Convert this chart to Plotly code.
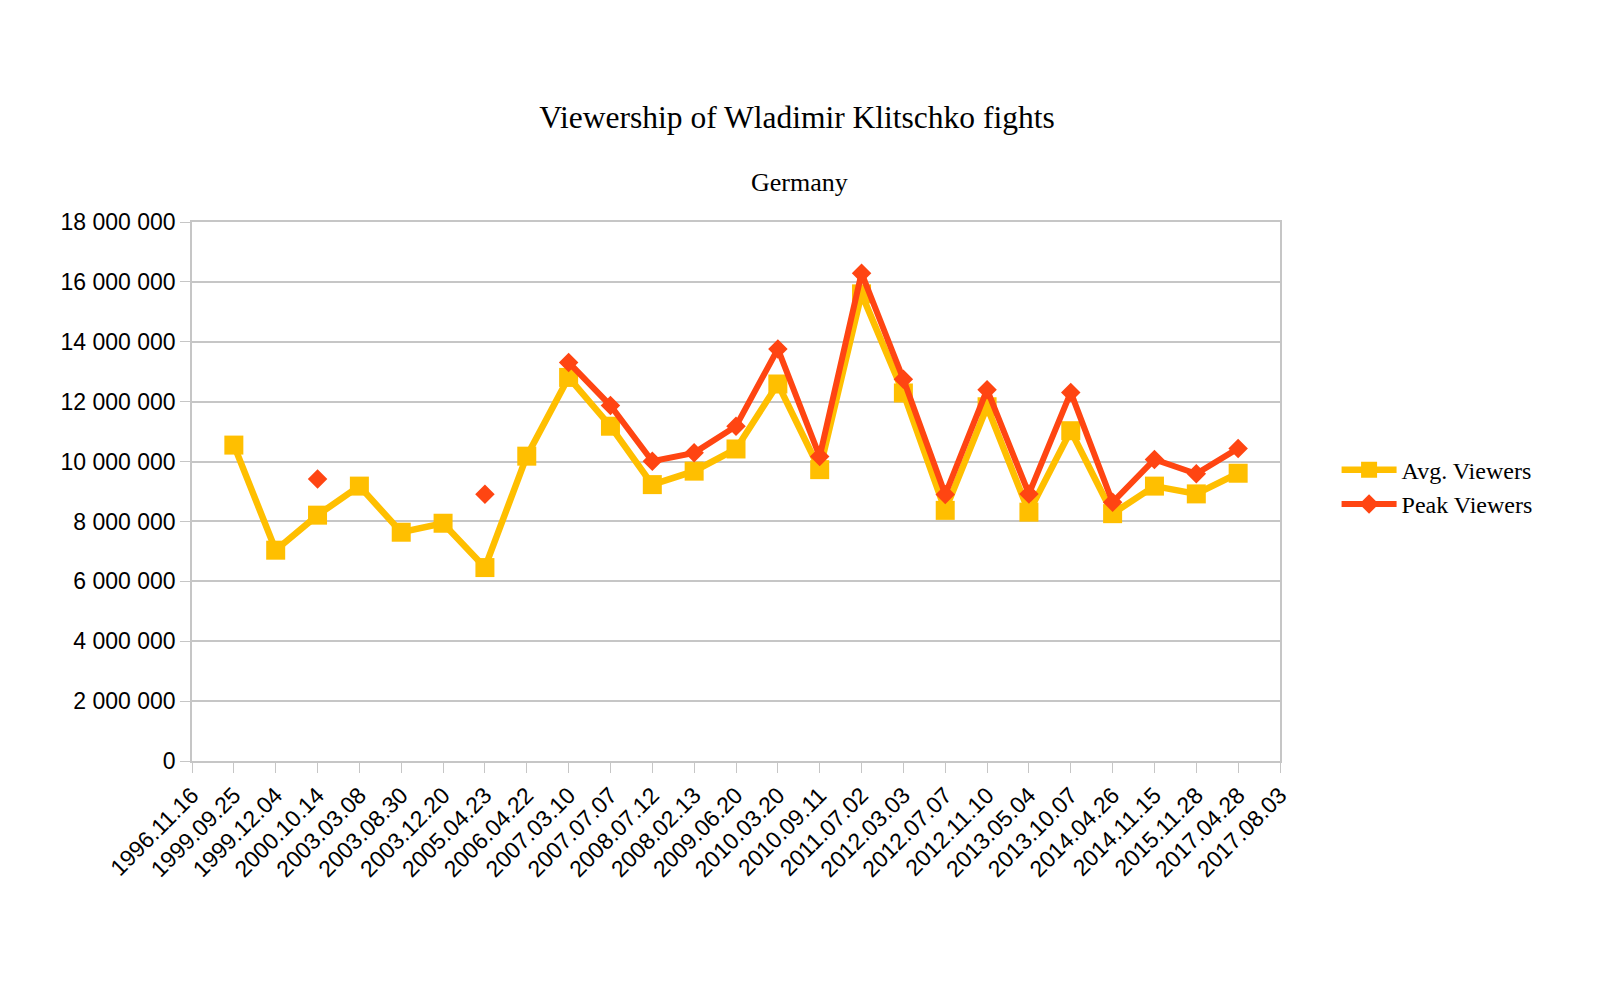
import plotly.graph_objects as go

# --- Data ---
FIGHT_DATES = [
    "1996.11.16", "1999.09.25", "1999.12.04", "2000.10.14", "2003.03.08",
    "2003.08.30", "2003.12.20", "2005.04.23", "2006.04.22", "2007.03.10",
    "2007.07.07", "2008.07.12", "2008.02.13", "2009.06.20", "2010.03.20",
    "2010.09.11", "2011.07.02", "2012.03.03", "2012.07.07", "2012.11.10",
    "2013.05.04", "2013.10.07", "2014.04.26", "2014.11.15", "2015.11.28",
    "2017.04.28", "2017.08.03",
]

AVG_VIEWERS = [
    None, 10_550_000, 7_040_000, 8_210_000, 9_180_000,
    7_640_000, 7_940_000, 6_460_000, 10_180_000, 12_810_000,
    11_180_000, 9_230_000, 9_680_000, 10_420_000, 12_590_000,
    9_730_000, 15_600_000, 12_290_000, 8_370_000, 11_830_000,
    8_310_000, 11_030_000, 8_260_000, 9_180_000, 8_920_000,
    9_610_000, None,
]

PEAK_VIEWERS = [
    None, None, None, 9_420_000, None,
    None, None, 8_910_000, None, 13_310_000,
    11_870_000, 10_010_000, 10_290_000, 11_180_000, 13_760_000,
    10_170_000, 16_290_000, 12_750_000, 8_900_000, 12_400_000,
    8_920_000, 12_310_000, 8_640_000, 10_070_000, 9_590_000,
    10_440_000, None,
]

Y_MAX = 18_000_000
Y_STEP = 2_000_000

# --- Style ---
GOLD = "#ffbf00"
RED = "#ff4512"
GRID = "#c6c6c6"
SANS = "Liberation Sans, Arial, sans-serif"
SERIF = "Liberation Serif, DejaVu Serif, serif"

# page body has an 8px margin, so everything is placed 8px up/left
OFF = 8

fig = go.Figure()

fig.add_trace(go.Scatter(
    x=FIGHT_DATES, y=AVG_VIEWERS, name="Avg. Viewers",
    mode="lines+markers",
    line=dict(color=GOLD, width=6.5),
    marker=dict(symbol="square", size=19, color=GOLD),
))

fig.add_trace(go.Scatter(
    x=FIGHT_DATES, y=PEAK_VIEWERS, name="Peak Viewers",
    mode="lines+markers",
    line=dict(color=RED, width=6),
    marker=dict(symbol="diamond", size=15, color=RED),
))

fig.update_layout(
    width=1600, height=988,
    paper_bgcolor="white", plot_bgcolor="white",
    margin=dict(l=192 - OFF, r=320 + OFF, t=222 - OFF, b=227 + OFF),
    separators=". ",
    font=dict(family=SANS, size=23, color="black"),
    title=dict(
        text="Viewership of Wladimir Klitschko fights",
        font=dict(family=SERIF, size=31.5, color="black"),
        x=(797 - OFF) / 1600, xanchor="center", xref="container",
        y=1 - (117 - OFF) / 988, yanchor="middle", yref="container",
    ),
    legend=dict(
        x=1.052, y=0.508, xanchor="left", yanchor="middle",
        font=dict(family=SERIF, size=24, color="black"),
        itemwidth=55, tracegroupgap=0,
        bgcolor="rgba(0,0,0,0)",
    ),
    showlegend=True,
)

fig.add_annotation(
    text="Germany", xref="paper", yref="paper",
    x=(799 - 192) / 1088, y=(761 - 182) / 539,
    xanchor="center", yanchor="middle", showarrow=False,
    font=dict(family=SERIF, size=26, color="black"),
)

fig.update_xaxes(
    type="category", range=[0, len(FIGHT_DATES) - 1],
    tickangle=-45, ticks="outside", ticklen=10, tickcolor=GRID,
    showline=True, linecolor=GRID, linewidth=1.5, mirror=True,
    showgrid=False, zeroline=False,
    tickfont=dict(family=SANS, size=23, color="black"),
)

fig.update_yaxes(
    range=[0, Y_MAX], dtick=Y_STEP, tick0=0, tickformat=",d",
    ticks="outside", ticklen=10, tickcolor=GRID,
    showline=True, linecolor=GRID, linewidth=1.5, mirror=True,
    showgrid=True, gridcolor=GRID, gridwidth=1.5, zeroline=False,
    tickfont=dict(family=SANS, size=23, color="black"),
)

fig.write_html("out.html")
